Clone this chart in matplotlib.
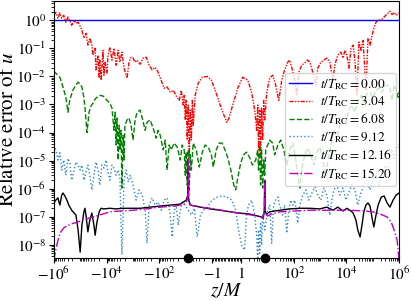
import numpy as np
import matplotlib
matplotlib.use("Agg")
import matplotlib.pyplot as plt
from matplotlib.ticker import FixedLocator, LogLocator, NullFormatter

plt.rcParams['mathtext.fontset'] = 'stix'
plt.rcParams['font.family'] = 'serif'
plt.rcParams['font.serif'] = ['STIXGeneral', 'Liberation Serif', 'DejaVu Serif']

################################################################################
### DATA
################################################################################

times = ['0.00', '3.04', '6.08', '9.12', '12.16', '15.20']

z_t0 = [-1e6, 1e6]
err_t0 = [1.0, 1.0]

z_t1 = [-1e6, -8.4e5, -7.0e5, -5.9e5, -5.0e5, -4.2e5, -3.5e5, -2.9e5, -2.5e5, -2.1e5,
        -1.7e5, -1.45e5, -1.2e5, -1e5, -8.6e4, -7.2e4, -6.0e4, -5.1e4, -4.3e4, -3.6e4,
        -3.3e4, -2.7e4, -2.5e4, -2.1e4, -1.9e4, -1.8e4, -1.6e4, -1.36e4, -1.25e4, -1.14e4,
        -9.6e3, -8.8e3, -7.4e3, -6.2e3, -5.2e3, -4.3e3, -3.6e3, -3.1e3, -2.6e3, -2.15e3,
        -1.66e3, -1.4e3, -1.17e3, -980, -820, -690, -530, -410, -310, -240,
        -185, -142, -109, -84, -65, -50, -38, -29, -22.5, -17.3,
        -14.5, -12.2, -11.2, -10.2, -9.4, -8.6, -7.9, -7.2, -6.6, -6.0,
        -5.5, -5.1, -4.3, -3.3, -2.3, -1.5, -1.04, -0.77, -0.43, -0.1,
        0.03, 0.17, 0.43, 0.77, 1.14, 1.8, 2.5, 3.3, 3.9, 4.3,
        4.6, 5.1, 5.5, 6.0, 6.6, 7.2, 7.9, 9.4, 12.2, 15.8,
        20.6, 27, 35, 45, 59, 70, 84, 109, 130, 155,
        200, 260, 340, 410, 530, 690, 820, 1.07e3, 1.4e3, 1.8e3,
        2.35e3, 3.1e3, 3.6e3, 4.7e3, 6.2e3, 7.4e3, 8.8e3, 1.04e4, 1.25e4, 1.5e4,
        1.8e4, 2.1e4, 2.5e4, 3.0e4, 3.6e4, 4.3e4, 5.5e4, 6.6e4, 7.9e4, 9.4e4,
        1.1e5, 1.33e5, 1.6e5, 2.25e5, 2.9e5, 3.8e5, 4.5e5, 5.4e5, 6.5e5, 7.7e5, 1e6]
err_t1 = [1.5, 1.9, 1.18, 1.8, 1.18, 1.5, 0.85, 1.3, 1.0, 0.66,
          1.0, 0.78, 0.85, 0.61, 0.44, 0.23, 0.34, 0.13, 0.23, 0.13,
          0.057, 0.10, 0.017, 0.057, 0.0087, 0.038, 0.0073, 0.085, 0.011, 0.032,
          0.013, 0.057, 0.11, 0.038, 0.10, 0.025, 0.085, 0.032, 0.073, 0.0196,
          0.0087, 0.032, 0.048, 0.045, 0.032, 0.038, 0.027, 0.045, 0.048, 0.025,
          0.017, 0.021, 0.014, 0.0073, 0.0038, 0.0042, 0.0027, 0.0032, 0.002, 0.0014,
          0.0032, 9.5e-4, 0.0021, 2.8e-4, 0.0014, 5.4e-5, 9.5e-4, 1.3e-5, 6.3e-4, 5.4e-5,
          0.0014, 1.8e-4, 0.0021, 0.0057, 0.0093, 0.010, 0.0073, 0.0032, 9.5e-4, 3.3e-4,
          2.3e-4, 3.3e-4, 9.5e-4, 0.0038, 0.0093, 0.0073, 0.0027, 6.3e-4, 1.2e-4, 9.5e-4,
          2.4e-5, 6.3e-4, 1.3e-5, 7.4e-4, 5.4e-5, 0.0014, 2.8e-4, 0.0027, 0.0087, 0.011,
          0.0049, 0.0014, 0.0073, 0.017, 0.032, 0.038, 0.021, 0.0073, 0.0021, 0.014,
          0.025, 0.030, 0.038, 0.032, 0.014, 0.0049, 0.0196, 0.032, 0.038, 0.045,
          0.032, 0.0073, 0.025, 0.057, 0.073, 0.045, 0.085, 0.057, 0.0196, 0.10,
          0.13, 0.038, 0.0021, 0.165, 0.085, 0.19, 0.0032, 0.23, 0.13, 0.29,
          0.52, 0.85, 1.0, 1.09, 1.4, 1.8, 2.1, 1.6, 1.9, 1.5, 1.8]

z_t2 = [-1e6, -7.7e5, -5.9e5, -4.5e5, -3.5e5, -2.9e5, -2.5e5, -1.9e5, -1.45e5, -1.2e5,
        -1e5, -8.6e4, -7.2e4, -6.6e4, -5.5e4, -4.6e4, -3.9e4, -3.3e4, -2.7e4, -2.3e4,
        -1.8e4, -1.36e4, -1.14e4, -9.6e3, -7.4e3, -6.2e3, -5.2e3, -4.7e3, -4.3e3, -4.0e3,
        -3.6e3, -3.3e3, -3.1e3, -2.8e3, -2.6e3, -2.35e3, -2.15e3, -2.0e3, -1.66e3, -1.4e3,
        -1.17e3, -980, -820, -690, -530, -440, -340, -290, -220, -170,
        -130, -109, -92, -70, -59, -50, -42, -35, -27, -20.6,
        -15.8, -13.3, -11.2, -10.2, -9.4, -8.6, -7.9, -7.2, -6.6, -6.0,
        -5.1, -3.9, -3.0, -2.3, -1.8, -1.36, -1.04, -0.9, -0.7, -0.5,
        -0.3, -0.1, 0.1, 0.3, 0.5, 0.63, 0.77, 0.97, 1.24, 1.6,
        2.1, 2.7, 3.6, 4.3, 4.6, 5.1, 5.5, 6.0, 6.6, 7.2,
        7.9, 8.6, 10.2, 12.2, 15.8, 18.9, 25, 32, 42, 54,
        70, 92, 119, 142, 170, 200, 260, 340, 440, 580,
        750, 980, 1.27e3, 1.66e3, 2.0e3, 2.6e3, 3.3e3, 4.3e3, 5.6e3, 7.4e3,
        9.6e3, 1.25e4, 1.6e4, 2.1e4, 2.7e4, 3.6e4, 4.6e4, 6.0e4, 7.9e4, 1.0e5,
        1.33e5, 1.7e5, 2.25e5, 2.9e5, 3.8e5, 4.5e5, 5.4e5, 6.5e5, 7.7e5, 9.2e5, 1e6]
err_t2 = [0.0153, 0.012, 0.0093, 0.0042, 0.0018, 5.3e-4, 0.0014, 0.0032, 0.0049, 0.0062,
          0.0053, 0.0042, 0.0017, 8e-4, 1e-4, 5.3e-4, 8.7e-4, 0.0011, 0.00155, 0.0018,
          0.0021, 0.002, 0.0017, 0.0014, 0.0011, 7.4e-4, 1.2e-4, 5.3e-4, 3.6e-5, 3.3e-4,
          1.05e-5, 1.8e-4, 2.4e-5, 1.2e-4, 1.05e-6, 8.1e-5, 1.05e-5, 1.8e-4, 2.8e-4, 3.3e-4,
          1.8e-4, 5.4e-5, 2.8e-4, 5.3e-4, 6.3e-4, 3.3e-4, 1.2e-4, 2.3e-4, 2.8e-4, 1.44e-4,
          6.3e-5, 1.2e-4, 8.1e-5, 2.4e-5, 5.4e-5, 4.6e-6, 3.6e-5, 2.4e-5, 4.2e-5, 3e-5,
          1.05e-5, 3.6e-5, 2.4e-5, 3e-6, 2e-5, 1.35e-6, 2.4e-5, 9e-7, 1.6e-5, 4.6e-6,
          4.2e-5, 2.4e-5, 5.9e-6, 2e-5, 3.6e-5, 3e-5, 1.6e-5, 5.9e-6, 2.4e-5, 4.2e-5,
          4.2e-5, 2.4e-5, 1.2e-5, 4.6e-6, 1.35e-6, 9e-7, 2.4e-6, 8.1e-6, 1.6e-5, 2e-5,
          1.3e-5, 6.9e-6, 1.05e-5, 2.4e-5, 4.6e-6, 3.6e-5, 1.35e-6, 2.4e-5, 1.05e-6, 1.05e-5,
          3e-6, 2.4e-5, 3.6e-5, 5.4e-5, 4.2e-5, 1.6e-5, 3.6e-5, 5.4e-5, 2.4e-5, 6.9e-6,
          2.4e-5, 4.2e-5, 1.05e-5, 3e-6, 1.05e-6, 4.6e-6, 1.6e-5, 2.8e-5, 1.6e-5, 6.9e-6,
          2e-5, 3e-5, 1.05e-5, 3e-6, 1.05e-5, 3.6e-5, 1.2e-4, 5.4e-5, 1.8e-4, 3.3e-4,
          2.3e-4, 6.3e-4, 9.5e-4, 5.3e-4, 0.0014, 0.0021, 0.0012, 0.0025, 0.0027, 0.0017,
          0.0032, 0.0038, 0.0027, 0.0045, 0.0049, 0.0038, 0.0014, 0.0049, 0.0032, 0.0018, 0.0027]

z_t3 = [-1e6, -8.4e5, -7.0e5, -5.9e5, -5.0e5, -4.2e5, -3.5e5, -2.9e5, -2.5e5, -2.1e5,
        -1.7e5, -1.45e5, -1.2e5, -1e5, -8.6e4, -7.2e4, -6.0e4, -5.1e4, -4.3e4, -3.6e4,
        -3.0e4, -2.5e4, -2.1e4, -1.8e4, -1.5e4, -1.25e4, -1.04e4, -8.8e3, -7.4e3, -6.2e3,
        -5.2e3, -4.3e3, -3.6e3, -3.1e3, -2.6e3, -2.15e3, -1.8e3, -1.5e3, -1.27e3, -980,
        -750, -580, -440, -340, -290, -240, -185, -142, -109, -84,
        -65, -50, -38, -32, -27, -22.5, -18.9, -15.8, -13.3, -10.2,
        -7.9, -6.0, -4.6, -3.6, -2.7, -2.1, -1.5, -0.97, -0.63, -0.3,
        0.03, 0.37, 0.63, 0.83, 1.04, 1.36, 1.6, 1.9, 2.5, 3.3,
        3.9, 4.3, 4.6, 5.1, 5.5, 6.0, 6.6, 7.9, 10.2, 12.2,
        14.5, 17.3, 20.6, 25, 29, 38, 45, 54, 65, 77,
        92, 109, 142, 170, 220, 290, 370, 490, 630, 820,
        1.07e3, 1.4e3, 1.8e3, 2.35e3, 2.8e3, 3.3e3, 4.3e3, 5.6e3, 7.4e3, 9.6e3,
        1.25e4, 1.6e4, 2.1e4, 2.7e4, 3.6e4, 4.6e4, 6.0e4, 7.9e4, 1.0e5, 1.33e5,
        1.7e5, 2.25e5, 2.9e5, 3.8e5, 4.5e5, 5.4e5, 6.5e5, 7.7e5, 1e6]
err_t3 = [3.6e-5, 2.4e-5, 1.05e-5, 1.9e-5, 4.6e-6, 1.05e-5, 3e-6, 1.2e-5, 8.9e-6, 2e-6,
          4.6e-6, 8.9e-6, 6.9e-6, 4.6e-6, 6.9e-6, 2e-6, 3.9e-6, 6.9e-6, 3e-6, 9e-7,
          3e-6, 8.9e-6, 4.6e-6, 1.35e-6, 6.9e-6, 5.4e-6, 1.05e-5, 3.9e-6, 2e-6, 6.9e-6,
          5.4e-6, 3e-6, 4.6e-6, 2.4e-6, 4.4e-9, 2e-6, 4.6e-6, 1.7e-6, 3e-6, 1.35e-6,
          3.9e-7, 9e-7, 5.9e-7, 1.7e-7, 1.15e-8, 2.6e-7, 4.7e-7, 2.6e-7, 3.3e-7, 1.7e-7,
          3.9e-7, 4.7e-7, 1.15e-7, 1.9e-8, 1.5e-7, 2.6e-7, 5e-8, 1.7e-7, 3.3e-7, 2.6e-7,
          1.7e-7, 1.15e-7, 2e-7, 1.9e-8, 1.15e-7, 1.7e-7, 2.2e-7, 3.9e-7, 5e-7, 5.5e-7,
          5e-7, 3.9e-7, 1.7e-7, 3.4e-8, 9.8e-9, 6.5e-9, 1.15e-7, 2.6e-7, 3.9e-7, 1.15e-7,
          2.2e-8, 2.6e-9, 3.4e-8, 5e-9, 6.5e-8, 9.8e-9, 1.15e-7, 3.4e-8, 1.7e-7, 2.6e-7,
          1.15e-8, 2.6e-7, 3.9e-7, 5e-7, 2.6e-7, 1.15e-7, 2.6e-7, 2.6e-8, 1.7e-7, 3.9e-7,
          2.6e-7, 3.9e-7, 6e-8, 2.6e-7, 5.9e-7, 9e-7, 3.9e-7, 7e-7, 1.15e-6, 5.9e-7,
          3.9e-7, 1.05e-6, 5.9e-7, 1.15e-7, 3.9e-7, 9e-7, 1.35e-6, 5.9e-7, 1.05e-6, 3.9e-7,
          7.6e-7, 1.35e-6, 9e-7, 2.6e-7, 7.6e-7, 1.35e-6, 2e-6, 9e-7, 2e-6, 3e-6,
          1.35e-6, 3.9e-6, 6.9e-6, 4.6e-6, 1.6e-5, 2.4e-5, 1.05e-5, 2.8e-5, 3.6e-5]

z_t4 = [-1e6, -8.4e5, -7.0e5, -5.9e5, -5.0e5, -4.5e5, -3.8e5, -3.2e5, -2.7e5, -2.1e5,
        -1.45e5, -1.2e5, -1e5, -8.6e4, -7.2e4, -6.6e4, -6.0e4, -5.1e4, -4.3e4, -3.6e4,
        -3.0e4, -2.7e4, -2.3e4, -1.9e4, -1.6e4, -1.25e4, -7.4e3, -4.3e3, -2.6e3, -1.27e3,
        -530, -220, -92, -38, -15.8, -9.4, -8.2, -7.9, -7.6, -6.6,
        -2.7, -1.14, -0.43, 0.23, 0.9, 2.1, 4.3, 6.0, 7.0, 7.6,
        7.9, 8.2, 9.4, 12.2, 18.9, 29, 70, 170, 410, 980,
        1.8e3, 3.1e3, 4.7e3, 7.4e3, 1.04e4, 1.5e4, 1.8e4, 2.3e4, 2.7e4, 3.3e4,
        3.9e4, 4.6e4, 5.5e4, 6.6e4, 7.9e4, 9.4e4, 1.1e5, 1.33e5, 1.6e5, 2.1e5,
        2.7e5, 3.5e5, 4.5e5, 5.9e5, 7.7e5, 1e6]
err_t4 = [3.1e-7, 3.9e-7, 4.7e-7, 2.6e-7, 5.9e-7, 7e-7, 5.5e-7, 3.9e-7, 2.6e-7, 1.7e-7,
          1.15e-7, 3.4e-8, 5.5e-9, 5e-8, 1.5e-7, 2e-7, 1.15e-7, 2.9e-8, 7.6e-8, 1.35e-7,
          5e-8, 2.2e-8, 6.5e-8, 1.5e-7, 2e-7, 1.9e-7, 2e-7, 1.9e-7, 2e-7, 2e-7,
          2e-7, 2.2e-7, 2.4e-7, 2.6e-7, 2.8e-7, 3.9e-7, 5.9e-7, 1.05e-5, 3.9e-7, 2.6e-7,
          2.2e-7, 1.9e-7, 1.7e-7, 1.5e-7, 1.35e-7, 1.25e-7, 1.06e-7, 9.8e-8, 9e-8, 1.7e-7,
          2e-6, 1.5e-7, 1.25e-7, 1.5e-7, 1.6e-7, 1.7e-7, 1.9e-7, 2e-7, 2e-7, 1.9e-7,
          2.2e-7, 1.7e-7, 2.2e-7, 1.6e-7, 2e-7, 1.6e-7, 1.35e-7, 7.6e-8, 3.4e-8, 1.9e-8,
          5e-8, 1.5e-7, 2.6e-7, 3.1e-7, 2.4e-7, 9e-8, 4.3e-8, 1.15e-7, 2.6e-7, 5e-7,
          5.5e-7, 3.1e-7, 2.2e-7, 3.9e-7, 5.9e-7, 7e-7]

z_t5 = [-1e6, -9.2e5, -7.7e5, -6.5e5, -5.4e5, -4.2e5, -3.2e5, -2.25e5, -1.6e5, -1e5,
        -6.0e4, -3.3e4, -1.8e4, -7.4e3, -3.1e3, -980, -340, -92, -25, -11.2,
        -9.4, -8.2, -7.9, -7.6, -6.6, -2.7, -0.77, 0.23, 1.36, 4.3,
        6.6, 7.6, 7.9, 8.2, 10.2, 14.5, 29, 109, 410, 2.35e3,
        1.36e4, 5.1e4, 1.0e5, 1.9e5, 3.5e5, 5.0e5, 5.9e5, 7.0e5, 8.4e5, 9.2e5, 1e6]
err_t5 = [2.6e-9, 4.4e-9, 9.8e-9, 1.9e-8, 2.9e-8, 4e-8, 4.7e-8, 5.5e-8, 6e-8, 7e-8,
          8.3e-8, 9.8e-8, 1.15e-7, 1.5e-7, 1.6e-7, 1.7e-7, 1.9e-7, 2.2e-7, 2.4e-7, 2.8e-7,
          3.3e-7, 4.7e-7, 1.2e-5, 4.7e-7, 2.6e-7, 2.2e-7, 1.9e-7, 1.5e-7, 1.25e-7, 1.06e-7,
          9e-8, 1.5e-7, 2e-6, 1.35e-7, 1.06e-7, 1.25e-7, 1.5e-7, 1.6e-7, 1.7e-7, 1.7e-7,
          1.7e-7, 1.6e-7, 1.5e-7, 1.25e-7, 9.8e-8, 6.5e-8, 4.3e-8, 2.6e-8, 1.5e-8, 6.5e-9, 2.6e-9]

# horizon markers on the axis
z_dots = [-7.9, 7.9]

xticks = [-1e6, -1e4, -1e2, -1, 1, 1e2, 1e4, 1e6]
xticklabels = [r'$-10^6$', r'$-10^4$', r'$-10^2$', r'$-1$', r'$1$', r'$10^2$', r'$10^4$', r'$10^6$']

################################################################################
### PLOT
################################################################################

fig = plt.figure(figsize=(4.11, 3.01), dpi=100)
ax = fig.add_axes([0.131, 0.143, 0.840, 0.855])

ax.plot(z_t0, err_t0, color='b', ls='-', lw=1.0, label=r'$t/T_{\rm RC} = %s$' % times[0])
ax.plot(z_t1, err_t1, color='r', ls=(0, (3, 1, 1, 1, 1, 1)), lw=1.0, label=r'$t/T_{\rm RC} = %s$' % times[1])
ax.plot(z_t2, err_t2, color='g', ls='--', lw=1.0, label=r'$t/T_{\rm RC} = %s$' % times[2])
ax.plot(z_t3, err_t3, color='#2e86c8', ls=':', lw=1.0, label=r'$t/T_{\rm RC} = %s$' % times[3])
ax.plot(z_t4, err_t4, color='k', ls='-', lw=1.0, label=r'$t/T_{\rm RC} = %s$' % times[4])
ax.plot(z_t5, err_t5, color='m', ls='-.', lw=1.0, label=r'$t/T_{\rm RC} = %s$' % times[5])

ax.set_xscale('symlog', linthresh=1, linscale=0.5)
ax.set_yscale('log')
ax.set_xlim(-1e6, 1e6)
ax.set_ylim(3.4e-9, 5)

ax.plot(z_dots, [3.4e-9, 3.4e-9], 'ko', ms=6, clip_on=False, zorder=10)

ax.xaxis.set_major_locator(FixedLocator(xticks))
ax.set_xticklabels(xticklabels)
minors = []
for k in range(0, 6):
    for s in range(2, 10):
        minors += [s * 10**k, -s * 10**k]
for k in [1, 3, 5]:
    minors += [10**k, -10**k]
minors += [i / 10 for i in range(-9, 10) if i != 0]
ax.xaxis.set_minor_locator(FixedLocator(minors))
ax.xaxis.set_minor_formatter(NullFormatter())

ax.yaxis.set_major_locator(LogLocator(base=10, numticks=20))
ax.yaxis.set_minor_locator(LogLocator(base=10, subs=range(2, 10), numticks=20))
ax.yaxis.set_minor_formatter(NullFormatter())
ax.tick_params(labelsize=11, pad=2)

ax.set_xlabel(r'$z/M$', fontsize=14, labelpad=-1)
ax.set_ylabel(r'Relative error of $u$', fontsize=15)
ax.yaxis.set_label_coords(-0.103, 0.5)

ax.legend(loc='center right', fontsize=9.5, borderaxespad=0.2, handlelength=1.8,
          labelspacing=0.2, borderpad=0.3, handletextpad=0.6)

fig.savefig('out.png', dpi=100)
